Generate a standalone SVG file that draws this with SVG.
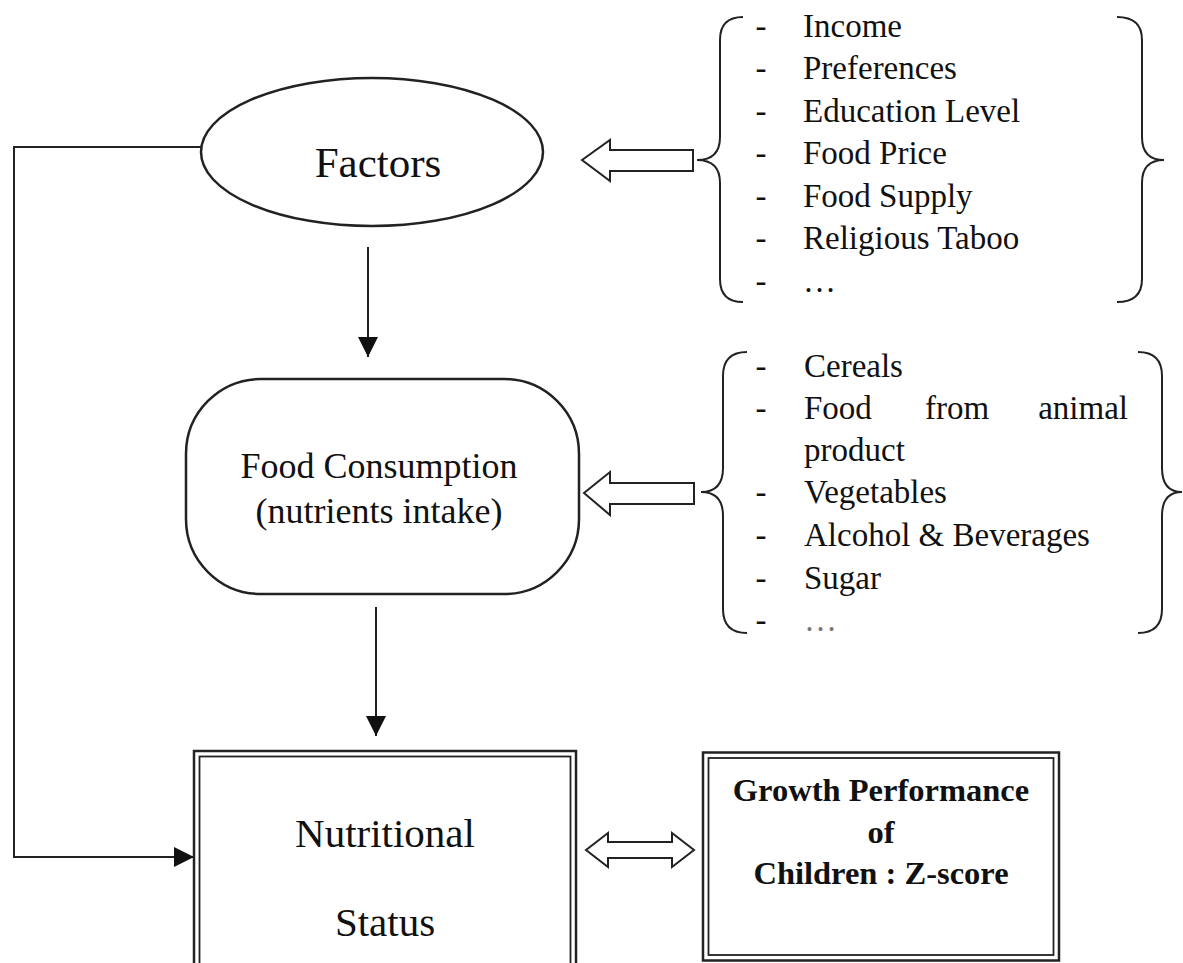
<svg xmlns="http://www.w3.org/2000/svg" width="1183" height="963" viewBox="0 0 1183 963">
<defs>
<style>
.t{font-family:"Liberation Serif","Times New Roman",serif;fill:#111}
.b{font-weight:bold}
.ln{fill:none;stroke:#222;stroke-width:2}
.sh{fill:#fff;stroke:#222;stroke-width:2.5}
.hol{fill:#fff;stroke:#222;stroke-width:2;stroke-linejoin:miter}
.br{fill:none;stroke:#222;stroke-width:2}
.fr1{fill:#fff;stroke:#222;stroke-width:2.5}
.fr2{fill:none;stroke:#222;stroke-width:1.8}
.li{font-size:33px}
</style>
<marker id="ah" markerUnits="userSpaceOnUse" markerWidth="20" markerHeight="20" viewBox="0 0 20 20" refX="20" refY="10" orient="auto">
<path d="M0,0 L20,10 L0,20 Z" fill="#111"/>
</marker>
</defs>
<rect width="1183" height="963" fill="#fff"/>

<g id="connectors">
<path class="ln" d="M202,147 H14 V857 H194" marker-end="url(#ah)"/>
<path class="ln" d="M368,247 V357" marker-end="url(#ah)"/>
<path class="ln" d="M376,607 V736" marker-end="url(#ah)"/>
<polygon class="hol" points="582,160 610,140 610,150 693,150 693,171 610,171 610,181"/>
<polygon class="hol" points="584,493 610,472 610,483 694,483 694,504 610,504 610,515"/>
<polygon class="hol" points="586,850 608,833 608,842 672,842 672,833 694,850 672,867 672,858 608,858 608,867"/>
</g>

<g id="factors">
<ellipse class="sh" cx="372" cy="152" rx="171" ry="74"/>
<text class="t" text-anchor="middle" font-size="43" x="378" y="177">Factors</text>
</g>

<g id="factor-list" class="t li">
<path class="br" d="M743,17 Q720,17 720,40 L720,137 Q720,160 697,160 Q720,160 720,183 L720,279 Q720,302 743,302"/>
<path class="br" d="M1117,17 Q1142,17 1142,40 L1142,137 Q1142,160 1164,160 Q1142,160 1142,183 L1142,279 Q1142,302 1117,302"/>
<text text-anchor="middle" x="761" y="37">-</text>
<text x="803" y="37">Income</text>
<text text-anchor="middle" x="761" y="79">-</text>
<text x="803" y="79">Preferences</text>
<text text-anchor="middle" x="761" y="122">-</text>
<text x="803" y="122">Education Level</text>
<text text-anchor="middle" x="761" y="164">-</text>
<text x="803" y="164">Food Price</text>
<text text-anchor="middle" x="761" y="207">-</text>
<text x="803" y="207">Food Supply</text>
<text text-anchor="middle" x="761" y="249">-</text>
<text x="803" y="249">Religious Taboo</text>
<text text-anchor="middle" x="761" y="292">-</text>
<text x="803" y="292">…</text>
</g>

<g id="food-consumption">
<rect class="sh" x="186" y="379" width="393" height="215" rx="75" ry="75"/>
<text class="t" text-anchor="middle" font-size="36" x="379" y="478">Food Consumption</text>
<text class="t" text-anchor="middle" font-size="36" x="379" y="523">(nutrients intake)</text>
</g>

<g id="food-list" class="t li">
<path class="br" d="M747,352 Q723,352 723,376 L723,468 Q723,492 701,492 Q723,492 723,516 L723,609 Q723,633 747,633"/>
<path class="br" d="M1138,352 Q1162,352 1162,376 L1162,468 Q1162,492 1182,492 Q1162,492 1162,516 L1162,609 Q1162,633 1138,633"/>
<text text-anchor="middle" x="761" y="377">-</text>
<text x="804" y="377">Cereals</text>
<text text-anchor="middle" x="761" y="419">-</text>
<text x="804" y="419">Food</text>
<text x="925" y="419">from</text>
<text text-anchor="end" x="1128" y="419">animal</text>
<text x="804" y="461">product</text>
<text text-anchor="middle" x="761" y="503">-</text>
<text x="804" y="503">Vegetables</text>
<text text-anchor="middle" x="761" y="546">-</text>
<text x="804" y="546">Alcohol &amp; Beverages</text>
<text text-anchor="middle" x="761" y="589">-</text>
<text x="804" y="589">Sugar</text>
<text text-anchor="middle" x="761" y="631">-</text>
<text x="804" y="631" fill="#777">…</text>
</g>

<g id="nutritional-status">
<rect class="fr1" x="194" y="751" width="382" height="240"/>
<rect class="fr2" x="199.5" y="756.5" width="371" height="240"/>
<text class="t" text-anchor="middle" font-size="41" x="385" y="847">Nutritional</text>
<text class="t" text-anchor="middle" font-size="41" x="385" y="936">Status</text>
</g>

<g id="growth-performance">
<rect class="fr1" x="703" y="752.5" width="356" height="208"/>
<rect class="fr2" x="708.5" y="758" width="345" height="197"/>
<g class="t b" font-size="32.5" text-anchor="middle">
<text x="881" y="801">Growth Performance</text>
<text x="881" y="843">of</text>
<text x="881" y="884">Children : Z-score</text>
</g>
</g>
</svg>
